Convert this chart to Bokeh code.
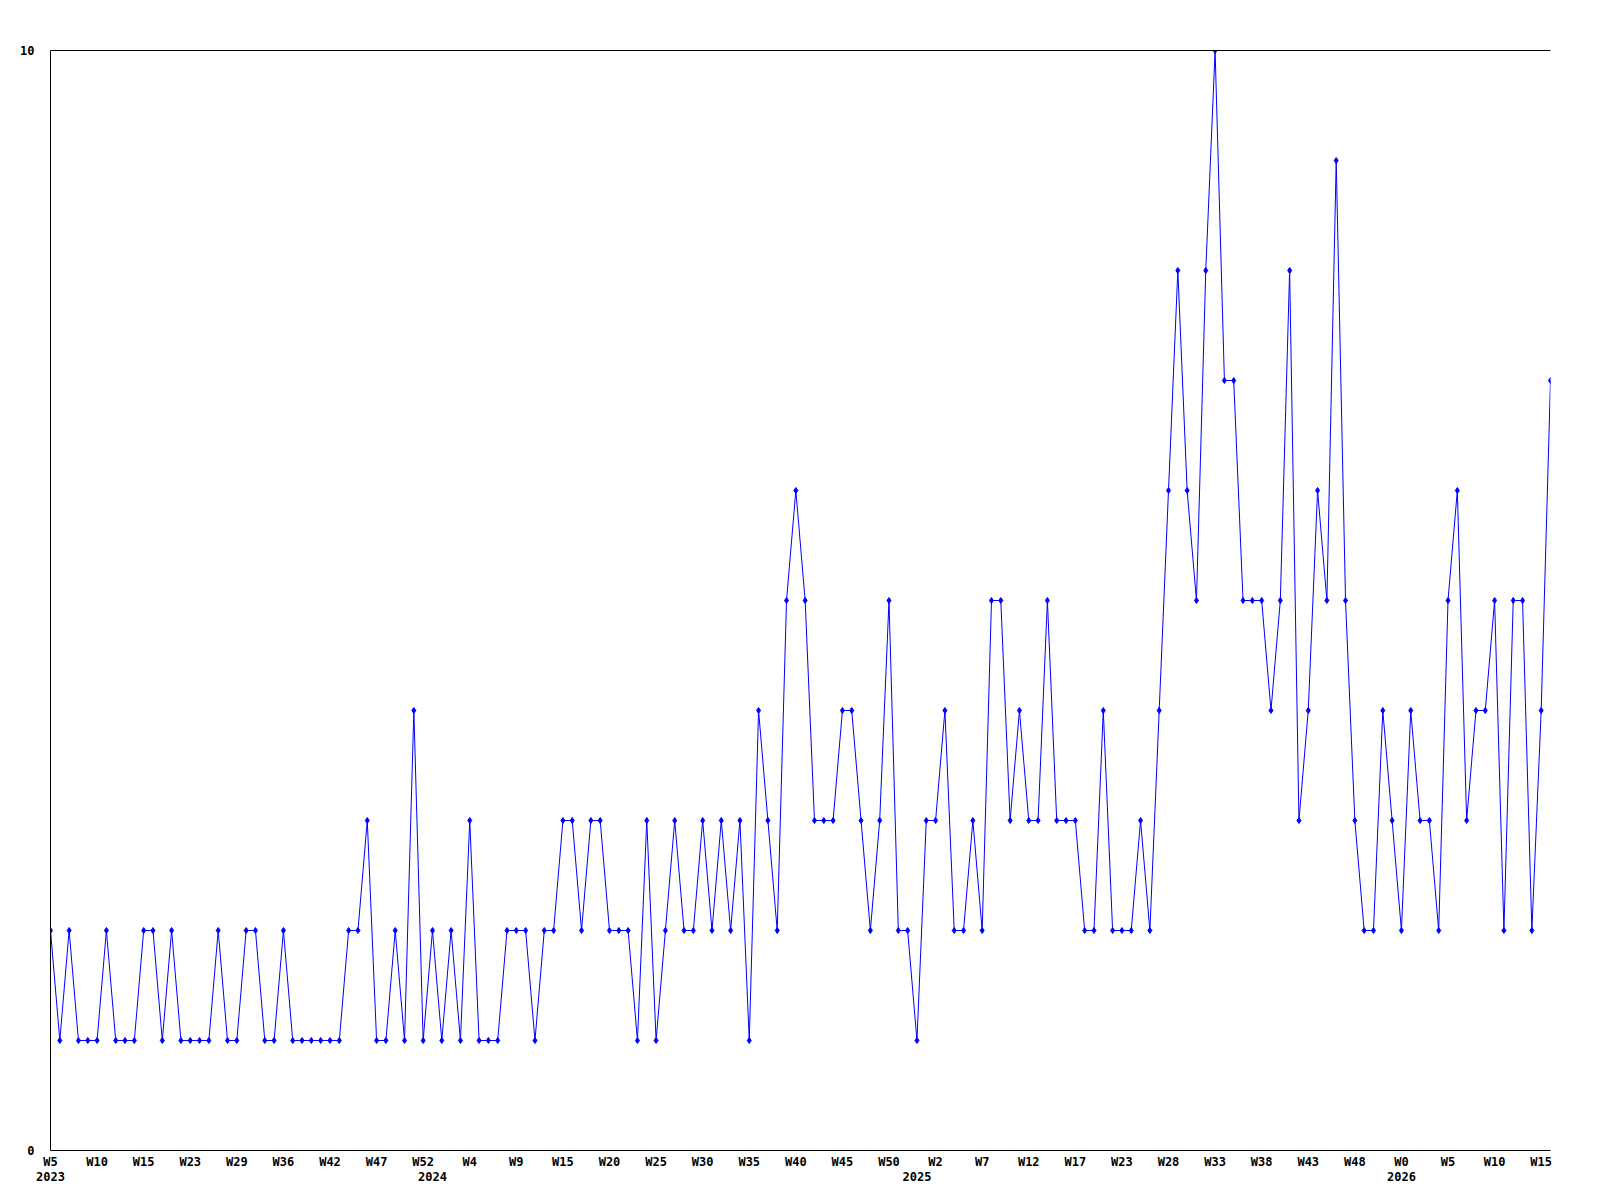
from bokeh.plotting import figure
from bokeh.models import Range1d, FixedTicker, LinearAxis
from bokeh.embed import file_html
from bokeh.resources import INLINE

# weekly counts (one point per week present in the data)
values = [2, 1, 2, 1, 1, 1, 2, 1, 1, 1, 2, 2, 1, 2, 1, 1, 1, 1, 2, 1,
          1, 2, 2, 1, 1, 2, 1, 1, 1, 1, 1, 1, 2, 2, 3, 1, 1, 2, 1, 4,
          1, 2, 1, 2, 1, 3, 1, 1, 1, 2, 2, 2, 1, 2, 2, 3, 3, 2, 3, 3,
          2, 2, 2, 1, 3, 1, 2, 3, 2, 2, 3, 2, 3, 2, 3, 1, 4, 3, 2, 5,
          6, 5, 3, 3, 3, 4, 4, 3, 2, 3, 5, 2, 2, 1, 3, 3, 4, 2, 2, 3,
          2, 5, 5, 3, 4, 3, 3, 5, 3, 3, 3, 2, 2, 4, 2, 2, 2, 3, 2, 4,
          6, 8, 6, 5, 8, 10, 7, 7, 5, 5, 5, 4, 5, 8, 3, 4, 6, 5, 9, 5,
          3, 2, 2, 4, 3, 2, 4, 3, 3, 2, 5, 6, 3, 4, 4, 5, 2, 5, 5, 2,
          4, 7]

# week tick labels, one every 5th point
week_labels = ["W5", "W10", "W15", "W23", "W29", "W36", "W42", "W47", "W52",
               "W4", "W9", "W15", "W20", "W25", "W30", "W35", "W40", "W45", "W50",
               "W2", "W7", "W12", "W17", "W23", "W28", "W33", "W38", "W43", "W48",
               "W0", "W5", "W10", "W15"]
week_step = 5

# year labels and the point index where each year begins
years = ["2023", "2024", "2025", "2026"]
year_starts = [0, 41, 93, 145]

y_ticks = [0, 10]

FONT = "DejaVu Sans Mono"
FS = "12px"
BLUE = "#0000FF"

xs = list(range(len(values)))

p = figure(frame_width=1500, frame_height=1100,
           x_range=Range1d(0, len(values) - 1), y_range=Range1d(0, 10),
           output_backend="svg", toolbar_location=None,
           min_border_left=50, min_border_top=50, min_border_right=34,
           min_border_bottom=40, background_fill_color="white",
           border_fill_color="white")
p.grid.visible = False
p.outline_line_color = None

p.line(xs, values, line_color=BLUE, line_width=1)
p.scatter(xs, values, marker="diamond", size=6, fill_color=BLUE,
          line_color=BLUE, line_width=1)

# y axis
ya = p.yaxis[0]
ya.ticker = FixedTicker(ticks=y_ticks)
ya.major_tick_line_color = None
ya.minor_tick_line_color = None
ya.major_tick_out = 0
ya.major_label_standoff = 16
ya.axis_line_color = "black"
ya.major_label_text_font = FONT
ya.major_label_text_font_size = FS
ya.major_label_text_font_style = "bold"
ya.major_label_text_color = "black"

# week axis
tick_pos = [i * week_step for i in range(len(week_labels))]
xa = p.xaxis[0]
xa.ticker = FixedTicker(ticks=tick_pos)
xa.major_label_overrides = {t: lab for t, lab in zip(tick_pos, week_labels)}
xa.major_tick_line_color = None
xa.minor_tick_line_color = None
xa.major_tick_out = 0
xa.major_label_standoff = 4
xa.axis_line_color = "black"
xa.major_label_text_font = FONT
xa.major_label_text_font_size = FS
xa.major_label_text_font_style = "bold"
xa.major_label_text_color = "black"

# year axis
yr = LinearAxis(ticker=FixedTicker(ticks=year_starts),
                major_label_overrides={t: y for t, y in zip(year_starts, years)},
                axis_line_color=None, major_tick_line_color=None,
                minor_tick_line_color=None, major_tick_out=0,
                major_label_standoff=0,
                major_label_text_font=FONT, major_label_text_font_size=FS,
                major_label_text_font_style="bold",
                major_label_text_color="black")
p.add_layout(yr, "below")

# top border line
top = LinearAxis(ticker=FixedTicker(ticks=[]), axis_line_color="black",
                 major_tick_line_color=None, minor_tick_line_color=None,
                 major_tick_out=0, major_label_text_font_size="0px",
                 major_label_standoff=0)
p.add_layout(top, "above")

open("out.html", "w").write(file_html(p, INLINE))
